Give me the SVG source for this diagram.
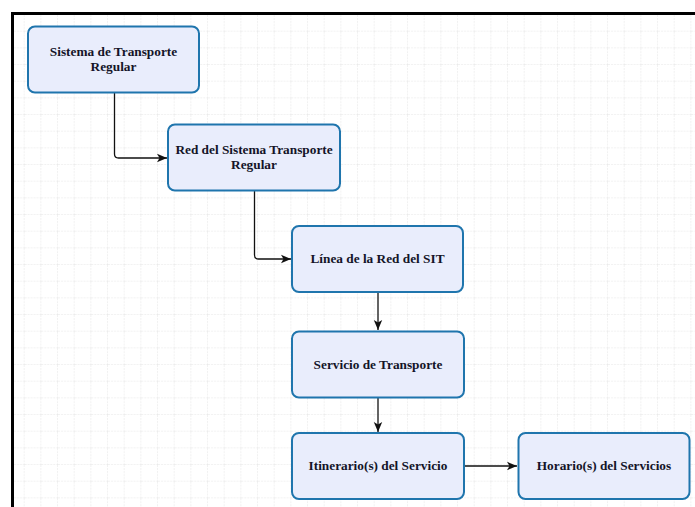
<svg xmlns="http://www.w3.org/2000/svg" width="695" height="507" viewBox="0 0 695 507">
  <style>
    .node rect { fill: #e9edfc; stroke: #1f75ad; stroke-width: 2; }
    .node text { font-family: "Liberation Serif", "Times New Roman", serif; font-weight: bold; font-size: 13.3px; fill: #141428; text-anchor: middle; }
    .edge { fill: none; stroke: #111; stroke-width: 1.3; }
  </style>
  <defs>
    <pattern id="gridPat" x="8" y="15" width="16.667" height="16.667" patternUnits="userSpaceOnUse">
      <path d="M16.667 0 V16.667 M0 16.667 H16.667" fill="none" stroke="#e4e4e4" stroke-width="1" stroke-dasharray="2 1"/>
    </pattern>
    <marker id="arrow" viewBox="0 0 10 10" refX="10" refY="5" markerWidth="10" markerHeight="10" markerUnits="userSpaceOnUse" orient="auto">
      <path d="M0 0.8 L10 5 L0 9.2 L2.5 5 Z" fill="#111"/>
    </marker>
  </defs>

  <!-- canvas with dotted grid and frame -->
  <rect x="0" y="0" width="695" height="507" fill="#fff"/>
  <rect x="13" y="15" width="682" height="492" fill="url(#gridPat)"/>
  <path d="M12.5 507 V13.5 H695" fill="none" stroke="#000" stroke-width="3"/>

  <!-- connectors -->
  <g id="connectors">
    <path class="edge" d="M114.5 93 V154 Q114.5 158 118.5 158 H167" marker-end="url(#arrow)"/>
    <path class="edge" d="M254.5 190 V255 Q254.5 259 258.5 259 H291" marker-end="url(#arrow)"/>
    <path class="edge" d="M378 292 V330" marker-end="url(#arrow)"/>
    <path class="edge" d="M378 398 V432" marker-end="url(#arrow)"/>
    <path class="edge" d="M464 466 H517" marker-end="url(#arrow)"/>
  </g>

  <!-- nodes -->
  <g id="sistema-transporte-regular" class="node">
    <rect x="28" y="26.5" width="171" height="66" rx="7"/>
    <text x="113.5" y="56">Sistema de Transporte</text>
    <text x="113.5" y="71">Regular</text>
  </g>
  <g id="red-sistema-transporte" class="node">
    <rect x="168" y="124.5" width="172" height="66" rx="7"/>
    <text x="254" y="154">Red del Sistema Transporte</text>
    <text x="254" y="169">Regular</text>
  </g>
  <g id="linea-red-sit" class="node">
    <rect x="292" y="226" width="171" height="66" rx="7"/>
    <text x="377.5" y="263">Línea de la Red del SIT</text>
  </g>
  <g id="servicio-transporte" class="node">
    <rect x="292" y="331.5" width="172" height="66" rx="7"/>
    <text x="378" y="368.5">Servicio de Transporte</text>
  </g>
  <g id="itinerario-servicio" class="node">
    <rect x="292" y="433" width="172" height="66" rx="7"/>
    <text x="378" y="470">Itinerario(s) del Servicio</text>
  </g>
  <g id="horario-servicios" class="node">
    <rect x="518.5" y="433" width="171" height="66" rx="7"/>
    <text x="604" y="470">Horario(s) del Servicios</text>
  </g>
</svg>
